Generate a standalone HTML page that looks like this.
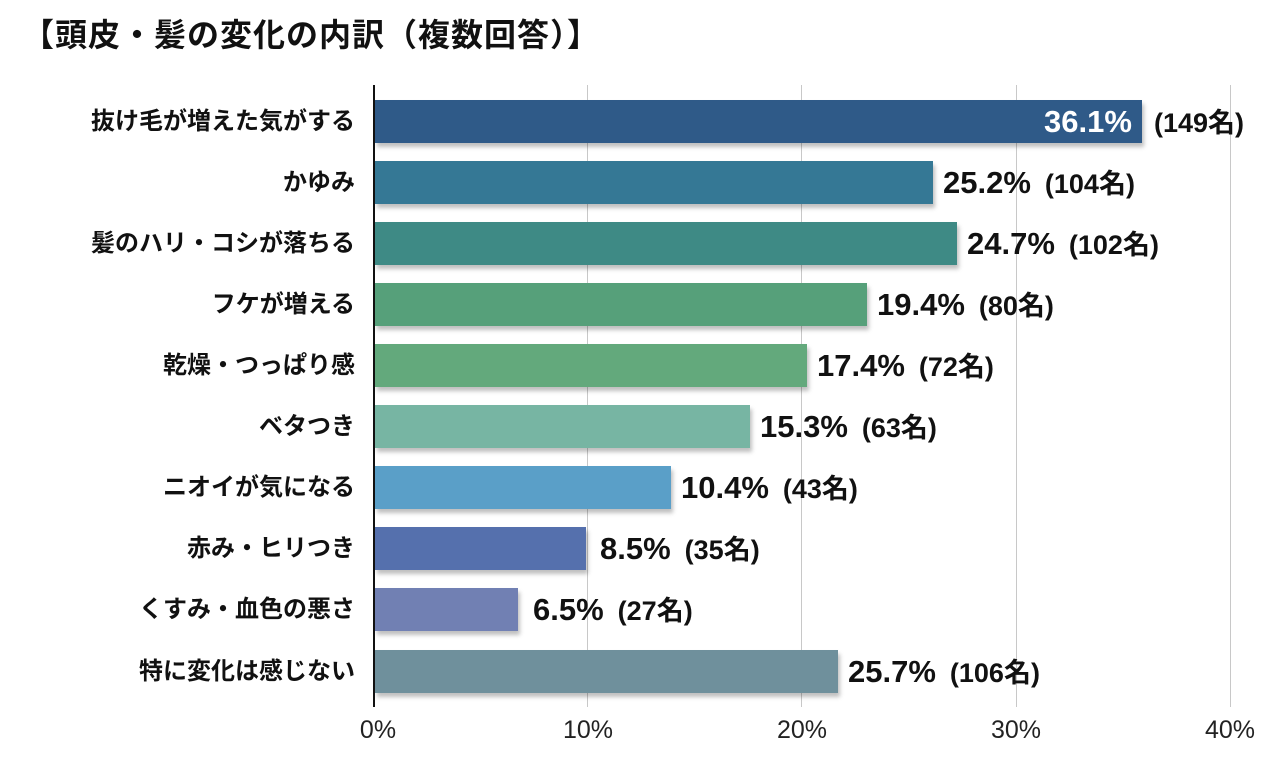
<!DOCTYPE html>
<html><head><meta charset="utf-8"><style>
body{margin:0;width:1280px;height:766px;background:#fff;position:relative;overflow:hidden;font-family:"Liberation Sans","Noto Sans CJK JP",sans-serif;}
.t{position:absolute;left:22px;top:10px;font-size:32px;font-weight:bold;color:#111;letter-spacing:1px;}
.g{position:absolute;top:85px;height:622px;width:1px;background:#c8c8c8;}
.ax{position:absolute;left:373px;top:85px;height:622px;width:2px;background:#111;}
.b{position:absolute;left:375px;height:43px;box-shadow:2px 4px 4px rgba(0,0,0,0.25);}
.l{position:absolute;right:925px;font-size:24px;font-weight:bold;color:#111;line-height:43px;white-space:nowrap;}
.v{position:absolute;font-size:31px;font-weight:bold;color:#111;line-height:43px;white-space:nowrap;}
.v small{font-size:27px;margin-left:14px;}
.x{position:absolute;top:716px;font-size:25px;color:#222;transform:translateX(-50%);}
</style></head><body>
<div class="t">【頭皮・髪の変化の内訳（複数回答）】</div>
<div class="g" style="left:587px"></div><div class="g" style="left:801px"></div><div class="g" style="left:1016px"></div><div class="g" style="left:1230px"></div>

<div class="b" style="top:100px;width:767px;background:#2f5a88"></div>
<div class="b" style="top:161px;width:558px;background:#357895"></div>
<div class="b" style="top:222px;width:582px;background:#3e8a85"></div>
<div class="b" style="top:283px;width:492px;background:#56a07a"></div>
<div class="b" style="top:344px;width:432px;background:#63a97c"></div>
<div class="b" style="top:405px;width:375px;background:#77b5a3"></div>
<div class="b" style="top:466px;width:296px;background:#5a9fc8"></div>
<div class="b" style="top:527px;width:211px;background:#5570ad"></div>
<div class="b" style="top:588px;width:143px;background:#7180b3"></div>
<div class="b" style="top:650px;width:463px;background:#6f909c"></div>
<div class="ax"></div>

<div class="l" style="top:100px">抜け毛が増えた気がする</div>
<div class="l" style="top:161px">かゆみ</div>
<div class="l" style="top:222px">髪のハリ・コシが落ちる</div>
<div class="l" style="top:283px">フケが増える</div>
<div class="l" style="top:344px">乾燥・つっぱり感</div>
<div class="l" style="top:405px">ベタつき</div>
<div class="l" style="top:466px">ニオイが気になる</div>
<div class="l" style="top:527px">赤み・ヒリつき</div>
<div class="l" style="top:588px">くすみ・血色の悪さ</div>
<div class="l" style="top:650px">特に変化は感じない</div>

<div class="v" style="top:100px;left:1044px;color:#fff">36.1%</div><div class="v" style="top:100px;left:1140px"><small>(149名)</small></div>
<div class="v" style="top:161px;left:943px">25.2%<small>(104名)</small></div>
<div class="v" style="top:222px;left:967px">24.7%<small>(102名)</small></div>
<div class="v" style="top:283px;left:877px">19.4%<small>(80名)</small></div>
<div class="v" style="top:344px;left:817px">17.4%<small>(72名)</small></div>
<div class="v" style="top:405px;left:760px">15.3%<small>(63名)</small></div>
<div class="v" style="top:466px;left:681px">10.4%<small>(43名)</small></div>
<div class="v" style="top:527px;left:600px">8.5%<small>(35名)</small></div>
<div class="v" style="top:588px;left:533px">6.5%<small>(27名)</small></div>
<div class="v" style="top:650px;left:848px">25.7%<small>(106名)</small></div>

<div class="x" style="left:378px">0%</div>
<div class="x" style="left:588px">10%</div>
<div class="x" style="left:802px">20%</div>
<div class="x" style="left:1016px">30%</div>
<div class="x" style="left:1230px">40%</div>
</body></html>
